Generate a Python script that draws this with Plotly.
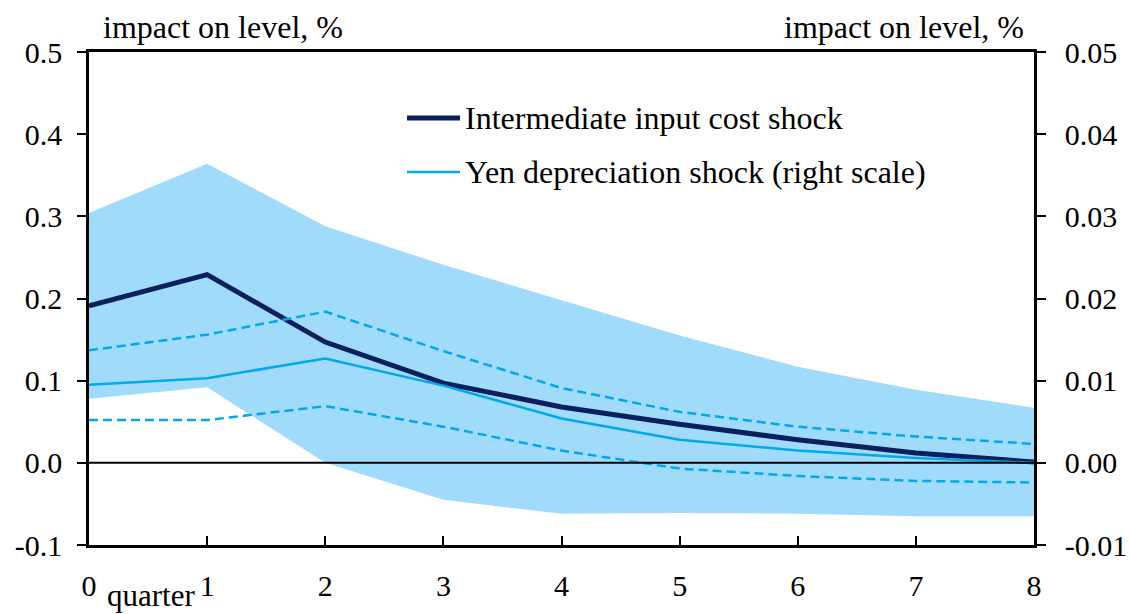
import plotly.graph_objects as go

quarters = [0, 1, 2, 3, 4, 5, 6, 7, 8]
# Intermediate input cost shock (left scale) and its band
input_cost = [0.191, 0.229, 0.147, 0.097, 0.068, 0.047, 0.028, 0.012, 0.001]
band_upper = [0.304, 0.364, 0.288, 0.241, 0.198, 0.155, 0.117, 0.089, 0.067]
band_lower = [0.078, 0.092, 0.000, -0.045, -0.062, -0.061, -0.062, -0.065, -0.065]
# Yen depreciation shock (right scale) and its band
yen = [0.0095, 0.0103, 0.0127, 0.0094, 0.0054, 0.0028, 0.0015, 0.0006, 0.0000]
yen_upper = [0.0137, 0.0156, 0.0184, 0.0136, 0.0091, 0.0062, 0.0044, 0.0032, 0.0023]
yen_lower = [0.0052, 0.0052, 0.0069, 0.0044, 0.0015, -0.0007, -0.0016, -0.0022, -0.0024]

left_ticks = [-0.1, 0.0, 0.1, 0.2, 0.3, 0.4, 0.5]
right_ticks = [-0.01, 0.0, 0.01, 0.02, 0.03, 0.04, 0.05]

NAVY = "#0b1f5c"
CYAN = "#00a9ec"
BAND = "#a1dbfc"
FONT = "Liberation Serif"
FS = 32
TF = dict(family=FONT, size=FS, color="black")
TKF = dict(family=FONT, size=30, color="black")

fig = go.Figure()
fig.add_trace(go.Scatter(x=quarters, y=band_lower, mode="lines", line=dict(width=0),
                         showlegend=False, hoverinfo="skip"))
fig.add_trace(go.Scatter(x=quarters, y=band_upper, mode="lines", line=dict(width=0),
                         fill="tonexty", fillcolor=BAND, showlegend=False, hoverinfo="skip"))
fig.add_trace(go.Scatter(x=quarters, y=yen_upper, mode="lines", yaxis="y2",
                         line=dict(color=CYAN, width=2.5, dash="9px,5px"), showlegend=False))
fig.add_trace(go.Scatter(x=quarters, y=yen_lower, mode="lines", yaxis="y2",
                         line=dict(color=CYAN, width=2.5, dash="9px,5px"), showlegend=False))
fig.add_trace(go.Scatter(x=quarters, y=yen, mode="lines", yaxis="y2",
                         line=dict(color=CYAN, width=2.5), showlegend=False))
fig.add_trace(go.Scatter(x=quarters, y=input_cost, mode="lines",
                         line=dict(color=NAVY, width=5), showlegend=False))

# zero line
fig.add_shape(type="line", xref="paper", yref="y", x0=0, x1=1, y0=0, y1=0,
              line=dict(color="black", width=2))

# legend (manual)
fig.add_shape(type="line", xref="paper", yref="paper", x0=(407-89)/945, x1=(460-89)/945,
              y0=(545-118)/493, y1=(545-118)/493, line=dict(color=NAVY, width=5))
fig.add_shape(type="line", xref="paper", yref="paper", x0=(407-89)/945, x1=(460-89)/945,
              y0=(545-172)/493, y1=(545-172)/493, line=dict(color=CYAN, width=2.5))
fig.add_annotation(text="Intermediate input cost shock", xref="paper", yref="paper",
                   x=(463-89)/945, y=(545-118)/493, xanchor="left", yanchor="middle",
                   showarrow=False, font=TF)
fig.add_annotation(text="Yen depreciation shock (right scale)", xref="paper", yref="paper",
                   x=(463-89)/945, y=(545-172)/493, xanchor="left", yanchor="middle",
                   showarrow=False, font=TF)

# axis captions
fig.add_annotation(text="impact on level, %", xref="paper", yref="paper",
                   x=(101-89)/945, y=(545-27)/493, xanchor="left", yanchor="middle",
                   showarrow=False, font=TF)
fig.add_annotation(text="impact on level, %", xref="paper", yref="paper",
                   x=(1026-89)/945, y=(545-27)/493, xanchor="right", yanchor="middle",
                   showarrow=False, font=TF)
fig.add_annotation(text="quarter", xref="paper", yref="paper",
                   x=(151-89)/945, y=-(595-545)/493, xanchor="center", yanchor="middle",
                   showarrow=False, font=dict(family=FONT, size=31, color="black"))

fig.update_layout(
    width=1130, height=614,
    margin=dict(l=89, r=96, t=52, b=69, autoexpand=False),
    paper_bgcolor="white", plot_bgcolor="white",
    font=TF,
    showlegend=False,
    xaxis=dict(range=[0, 8], tickvals=quarters, ticks="inside", ticklen=9, tickwidth=2,
               tickcolor="black", showline=True, linecolor="black", linewidth=2.5,
               mirror=True, showgrid=False, zeroline=False, tickfont=TKF,
               ticklabelstandoff=12, automargin=False),
    yaxis=dict(range=[-0.1, 0.5], tickvals=left_ticks, ticktext=[f"{v:.1f}" for v in left_ticks],
               ticks="outside", ticklen=9, tickwidth=2, tickcolor="black",
               showline=True, linecolor="black", linewidth=2.5, showgrid=False,
               zeroline=False, tickfont=TKF, ticklabelstandoff=9, automargin=False),
    yaxis2=dict(range=[-0.01, 0.05], tickvals=right_ticks,
                ticktext=[f"{v:.2f}" for v in right_ticks],
                overlaying="y", side="right", ticks="outside", ticklen=9, tickwidth=2,
                tickcolor="black", showline=True, linecolor="black", linewidth=2.5,
                showgrid=False, zeroline=False, tickfont=TKF, ticklabelstandoff=13,
                automargin=False),
)

fig.write_html("out.html", config={"displayModeBar": False},
               post_script="document.body.style.margin='0';document.body.style.overflow='hidden';")
